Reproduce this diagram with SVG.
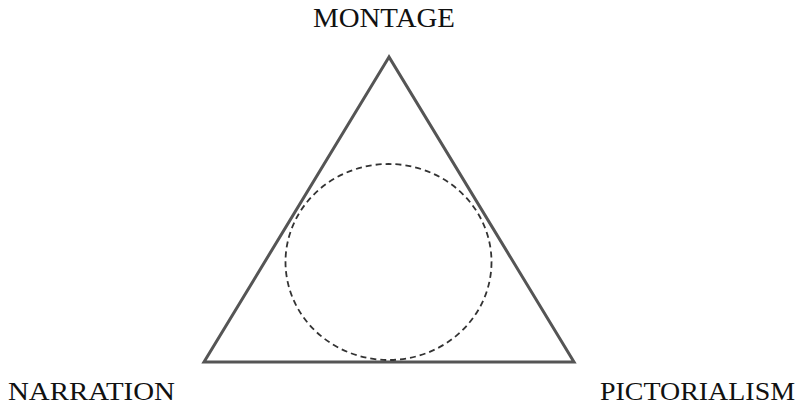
<svg xmlns="http://www.w3.org/2000/svg" width="800" height="406" viewBox="0 0 800 406">
<style>
.lbl{font-family:"Liberation Serif","DejaVu Serif",serif;font-size:27px;fill:#111}
.low{font-size:26px}
</style>
<rect width="800" height="406" fill="#fff"/>
<g id="connectors">
<polygon points="389,57 204,362 574,362" fill="none" stroke="#555" stroke-width="3" stroke-linejoin="miter"/>
<ellipse cx="388.5" cy="262" rx="103" ry="98" fill="none" stroke="#333" stroke-width="1.8" stroke-dasharray="6,4"/>
</g>
<g id="montage"><text class="lbl" x="313" y="27" textLength="142" lengthAdjust="spacingAndGlyphs">MONTAGE</text></g>
<g id="narration"><text class="lbl low" x="8" y="400" textLength="167" lengthAdjust="spacingAndGlyphs">NARRATION</text></g>
<g id="pictorialism"><text class="lbl low" x="600" y="400" textLength="195" lengthAdjust="spacingAndGlyphs">PICTORIALISM</text></g>
</svg>
